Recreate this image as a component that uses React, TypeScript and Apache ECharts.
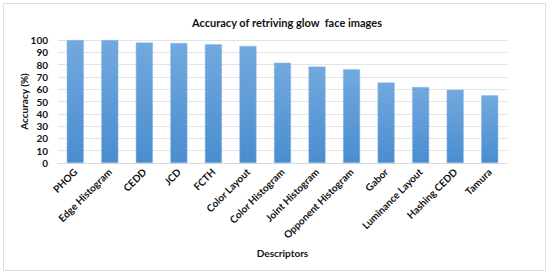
import React, { useEffect, useRef } from "react";
import * as echarts from "echarts";

const categories = [
  "PHOG", "Edge Histogram", "CEDD", "JCD", "FCTH", "Color Layout", "Color Histogram",
  "Joint Histogram", "Opponent Histogram", "Gabor", "Luminance Layout", "Hashing CEDD", "Tamura",
];
const accuracy = [100, 100, 98, 97.5, 96.5, 95.2, 81.5, 78.4, 76.3, 65.4, 61.8, 59.6, 55];
const yTicks = [0, 10, 20, 30, 40, 50, 60, 70, 80, 90, 100];

const FONT = "Lato, 'Liberation Sans', sans-serif";

export default function App() {
  const ref = useRef<HTMLDivElement>(null);
  useEffect(() => {
    if (!ref.current) return;
    const chart = echarts.init(ref.current, undefined, { renderer: "svg" });
    chart.setOption({
      animation: false,
      backgroundColor: "#ffffff",
      title: {
        text: "Accuracy of retriving glow  face images",
        left: 282,
        textAlign: "center",
        top: 12,
        textStyle: { fontFamily: FONT, fontSize: 11, fontWeight: "bold", color: "#111111" },
      },
      graphic: [
        {
          type: "rect",
          shape: { x: 3.5, y: 3.5, width: 542, height: 267 },
          style: { fill: "none", stroke: "#dedede", lineWidth: 1 },
          silent: true,
        },
      ],
      grid: { left: 58, right: 43, top: 40, bottom: 112, containLabel: false },
      xAxis: {
        type: "category",
        data: categories,
        name: "Descriptors",
        nameLocation: "middle",
        nameGap: 85,
        nameMoveOverlap: false,
        nameTextStyle: { fontFamily: FONT, fontSize: 10, fontWeight: "bold", color: "#111111" },
        axisLine: { show: true, lineStyle: { color: "#d9d9d9" } },
        axisTick: { show: false },
        axisLabel: {
          interval: 0,
          rotate: 45,
          margin: 7,
          fontFamily: FONT,
          fontSize: 10,
          fontWeight: "bold",
          color: "#111111",
        },
      },
      yAxis: {
        type: "value",
        min: 0,
        max: 100,
        interval: 10,
        name: "Accuracy (%)",
        nameLocation: "middle",
        nameGap: 29,
        nameMoveOverlap: false,
        nameTextStyle: { fontFamily: FONT, fontSize: 10, fontWeight: "bold", color: "#111111" },
        axisLine: { show: false },
        axisTick: { show: false },
        splitLine: { lineStyle: { color: "#e3e3e3", width: 1 } },
        axisLabel: {
          margin: 10,
          fontFamily: FONT,
          fontSize: 10,
          fontWeight: "bold",
          color: "#111111",
          formatter: (v: number) => (yTicks.includes(v) ? String(v) : ""),
        },
      },
      series: [
        {
          type: "bar",
          data: accuracy,
          barWidth: 17,
          itemStyle: {
            color: new echarts.graphic.LinearGradient(0, 0, 0, 1, [
              { offset: 0, color: "#72a9de" },
              { offset: 1, color: "#4a8dcf" },
            ]),
            borderColor: "#8bb9e6",
            borderWidth: 0.5,
          },
        },
      ],
    });
    return () => chart.dispose();
  }, []);
  return (
    <div
      ref={ref}
      style={{ position: "absolute", left: 0, top: 0, width: 550, height: 275 }}
    />
  );
}
